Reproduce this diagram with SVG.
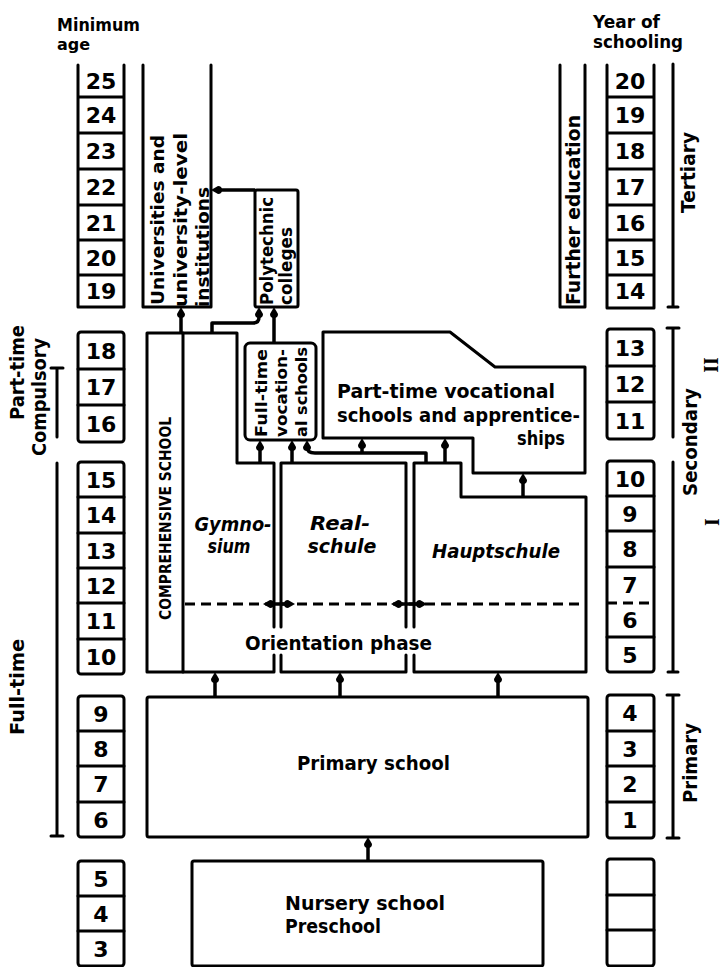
<svg xmlns="http://www.w3.org/2000/svg" width="724" height="967" viewBox="0 0 724 967">
<defs>
<marker id="ah" markerUnits="userSpaceOnUse" markerWidth="14" markerHeight="12" viewBox="-6 -6 14 12" refX="0" refY="0" orient="auto" overflow="visible">
<path d="M6,0 L-1,-4 A4,4 0 0 0 -1,4 Z" fill="#000"/>
</marker>
<style>
.ln{fill:none;stroke:#000;stroke-width:3;stroke-linejoin:round;stroke-linecap:round}
.bx{fill:#fff;stroke:#000;stroke-width:3;stroke-linejoin:round}
.t{font-family:"DejaVu Sans","Liberation Sans",sans-serif;font-weight:bold;fill:#000}
.d{font-family:"DejaVu Sans","Liberation Sans",sans-serif;font-weight:bold;font-size:22px;text-anchor:middle;fill:#000}
.it{font-style:italic}
.cn{fill:none;stroke:#000;stroke-width:3.5;stroke-linejoin:round;marker-end:url(#ah)}
.dash{stroke-dasharray:10 6;stroke-linecap:butt}
.rn{font-family:"Liberation Serif",serif;font-weight:bold;font-size:20px;text-anchor:middle;fill:#000}
</style>
</defs>
<rect width="724" height="967" fill="#fff"/>

<g id="headers">
<text class="t" x="57" y="31" font-size="17" textLength="83" lengthAdjust="spacingAndGlyphs">Minimum</text>
<text class="t" x="57" y="50" font-size="16">age</text>
<text class="t" x="593" y="28" font-size="17" textLength="67" lengthAdjust="spacingAndGlyphs">Year of</text>
<text class="t" x="593" y="48" font-size="17" textLength="90" lengthAdjust="spacingAndGlyphs">schooling</text>
</g>

<g id="age-scale">
<path class="ln" d="M78,65 V307 H124 V65 M78,97 H124 M78,133 H124 M78,169 H124 M78,205 H124 M78,240 H124 M78,275 H124"/>
<text class="d" x="101" y="89">25</text><text class="d" x="101" y="123">24</text><text class="d" x="101" y="159">23</text><text class="d" x="101" y="195">22</text><text class="d" x="101" y="230.5">21</text><text class="d" x="101" y="265.5">20</text><text class="d" x="101" y="299">19</text>
<rect class="ln" x="78" y="332" width="46" height="110" rx="3"/>
<path class="ln" d="M78,369 H124 M78,405 H124"/>
<text class="d" x="101" y="358.5">18</text><text class="d" x="101" y="395">17</text><text class="d" x="101" y="431.5">16</text>
<rect class="ln" x="78" y="462" width="46" height="212" rx="3"/>
<path class="ln" d="M78,497 H124 M78,533 H124 M78,568 H124 M78,603 H124 M78,639 H124"/>
<text class="d" x="101" y="487.5">15</text><text class="d" x="101" y="523">14</text><text class="d" x="101" y="558.5">13</text><text class="d" x="101" y="593.5">12</text><text class="d" x="101" y="629">11</text><text class="d" x="101" y="664.5">10</text>
<rect class="ln" x="78" y="696" width="46" height="141" rx="3"/>
<path class="ln" d="M78,731 H124 M78,766 H124 M78,802 H124"/>
<text class="d" x="101" y="721.5">9</text><text class="d" x="101" y="756.5">8</text><text class="d" x="101" y="792">7</text><text class="d" x="101" y="827.5">6</text>
<rect class="ln" x="78" y="861" width="46" height="105" rx="3"/>
<path class="ln" d="M78,896 H124 M78,931 H124"/>
<text class="d" x="101" y="886.5">5</text><text class="d" x="101" y="921.5">4</text><text class="d" x="101" y="956.5">3</text>
</g>

<g id="year-scale">
<path class="ln" d="M607,65 V308 H654 V65 M607,97 H654 M607,133 H654 M607,169 H654 M607,205 H654 M607,240 H654 M607,275 H654"/>
<text class="d" x="630" y="89">20</text><text class="d" x="630" y="123">19</text><text class="d" x="630" y="159">18</text><text class="d" x="630" y="195">17</text><text class="d" x="630" y="230.5">16</text><text class="d" x="630" y="265.5">15</text><text class="d" x="630" y="299">14</text>
<rect class="ln" x="607" y="329" width="47" height="110" rx="3"/>
<path class="ln" d="M607,366 H654 M607,402 H654"/>
<text class="d" x="630" y="355.5">13</text><text class="d" x="630" y="392">12</text><text class="d" x="630" y="428.5">11</text>
<rect class="ln" x="607" y="461" width="47" height="211" rx="3"/>
<path class="ln" d="M607,496 H654 M607,531 H654 M607,567 H654 M607,637 H654"/>
<path class="ln dash" d="M607,603 H654"/>
<text class="d" x="630" y="486.5">10</text><text class="d" x="630" y="521.5">9</text><text class="d" x="630" y="557">8</text><text class="d" x="630" y="592.5">7</text><text class="d" x="630" y="627.5">6</text><text class="d" x="630" y="662.5">5</text>
<rect class="ln" x="607" y="695" width="47" height="143" rx="3"/>
<path class="ln" d="M607,731 H654 M607,766 H654 M607,802 H654"/>
<text class="d" x="630" y="721">4</text><text class="d" x="630" y="756.5">3</text><text class="d" x="630" y="792">2</text><text class="d" x="630" y="828">1</text>
<rect class="ln" x="607" y="859" width="47" height="107" rx="3"/>
<path class="ln" d="M607,895 H654 M607,930 H654"/>
</g>

<g id="brackets">
<path class="ln" d="M57,368 V437 M51,368 H63"/>
<path class="ln" d="M57,463 V836 M51,836 H63"/>
<path class="ln" d="M673,64 V307 M668,307 H678"/>
<path class="ln" d="M673,328 V437 M667,328 H679"/>
<path class="ln" d="M673,462 V672 M668,672 H678"/>
<path class="ln" d="M673,695 V838 M667,695 H679 M667,838 H679"/>
<text class="t" font-size="19" transform="translate(24,420) rotate(-90)" textLength="95" lengthAdjust="spacingAndGlyphs">Part-time</text>
<text class="t" font-size="19" transform="translate(46,456) rotate(-90)" textLength="118" lengthAdjust="spacingAndGlyphs">Compulsory</text>
<text class="t" font-size="19" transform="translate(24,735) rotate(-90)" textLength="96" lengthAdjust="spacingAndGlyphs">Full-time</text>
<text class="t" font-size="19" transform="translate(695,213) rotate(-90)" textLength="81" lengthAdjust="spacingAndGlyphs">Tertiary</text>
<text class="t" font-size="19" transform="translate(697,496) rotate(-90)" textLength="108" lengthAdjust="spacingAndGlyphs">Secondary</text>
<text class="t" font-size="19" transform="translate(697,803) rotate(-90)" textLength="80" lengthAdjust="spacingAndGlyphs">Primary</text>
<text class="rn" transform="translate(718,365) rotate(-90)">II</text>
<text class="rn" transform="translate(719,522) rotate(-90)">I</text>
</g>

<g id="universities">
<path class="ln" d="M143,65 V307 H211 V65"/>
<text class="t" font-size="17" transform="translate(164,305) rotate(-90)" textLength="170" lengthAdjust="spacingAndGlyphs">Universities and</text>
<text class="t" font-size="17" transform="translate(187,307) rotate(-90)" textLength="174" lengthAdjust="spacingAndGlyphs">university-level</text>
<text class="t" font-size="17" transform="translate(209,307) rotate(-90)" textLength="120" lengthAdjust="spacingAndGlyphs">institutions</text>
</g>

<g id="polytechnic">
<rect class="bx" x="255" y="190" width="43" height="117" rx="2"/>
<text class="t" font-size="17" transform="translate(273,305) rotate(-90)" textLength="108" lengthAdjust="spacingAndGlyphs">Polytechnic</text>
<text class="t" font-size="17" transform="translate(292,305) rotate(-90)" textLength="78" lengthAdjust="spacingAndGlyphs">colleges</text>
</g>

<g id="further-education">
<path class="ln" d="M560,65 V307 H585 V65"/>
<text class="t" font-size="19" transform="translate(580,305) rotate(-90)" textLength="190" lengthAdjust="spacingAndGlyphs">Further education</text>
</g>

<g id="comprehensive-school">
<path class="ln" d="M183,333 H147 V672 H183 V333"/>
<text class="t" font-size="16" transform="translate(171,620) rotate(-90)" textLength="203" lengthAdjust="spacingAndGlyphs">COMPREHENSIVE SCHOOL</text>
</g>

<g id="gymnasium">
<path class="ln" d="M183,333 H237 V463 H274 V627 M274,655 V672 H183"/>
<text class="t it" font-size="20" x="233" y="531" text-anchor="middle" textLength="77" lengthAdjust="spacingAndGlyphs">Gymno-</text>
<text class="t it" font-size="20" x="229" y="553" text-anchor="middle" textLength="43" lengthAdjust="spacingAndGlyphs">sium</text>
</g>

<g id="realschule">
<path class="ln" d="M281,627 V463 H406 V627 M406,655 V672 H281 V655"/>
<text class="t it" font-size="20" x="340" y="530" text-anchor="middle" textLength="60" lengthAdjust="spacingAndGlyphs">Real-</text>
<text class="t it" font-size="20" x="342" y="553" text-anchor="middle" textLength="69" lengthAdjust="spacingAndGlyphs">schule</text>
</g>

<g id="hauptschule">
<path class="ln" d="M414,627 V463 H461 V497 H586 V672 H414 V655"/>
<text class="t it" font-size="20" x="496" y="558" text-anchor="middle" textLength="128" lengthAdjust="spacingAndGlyphs">Hauptschule</text>
</g>

<g id="orientation-phase">
<path class="ln dash" d="M185,604 H586"/>
<text class="t" font-size="20" x="245" y="650" textLength="187" lengthAdjust="spacingAndGlyphs">Orientation phase</text>
</g>

<g id="ft-vocational">
<rect class="bx" x="245" y="343" width="71" height="97" rx="5"/>
<text class="t" font-size="15.5" transform="translate(267,437) rotate(-90)" textLength="88" lengthAdjust="spacingAndGlyphs">Full-time</text>
<text class="t" font-size="15.5" transform="translate(287,437) rotate(-90)" textLength="88" lengthAdjust="spacingAndGlyphs">vocation-</text>
<text class="t" font-size="15.5" transform="translate(307,437) rotate(-90)" textLength="90" lengthAdjust="spacingAndGlyphs">al schools</text>
</g>

<g id="part-time-vocational">
<polygon class="bx" points="323,332 450,332 495,367 585,367 585,473 473,473 473,438 323,438"/>
<text class="t" font-size="19.5" x="337" y="398" textLength="218" lengthAdjust="spacingAndGlyphs">Part-time vocational</text>
<text class="t" font-size="19.5" x="337" y="422" textLength="243" lengthAdjust="spacingAndGlyphs">schools and apprentice-</text>
<text class="t" font-size="19.5" x="565" y="445" text-anchor="end" textLength="48" lengthAdjust="spacingAndGlyphs">ships</text>
</g>

<g id="primary-school">
<rect class="bx" x="147" y="697" width="441" height="140" rx="2"/>
<text class="t" font-size="20" x="297" y="770" textLength="153" lengthAdjust="spacingAndGlyphs">Primary school</text>
</g>

<g id="nursery-school">
<rect class="bx" x="192" y="861" width="351" height="105" rx="2"/>
<text class="t" font-size="19" x="285" y="910" textLength="160" lengthAdjust="spacingAndGlyphs">Nursery school</text>
<text class="t" font-size="19" x="285" y="933" textLength="96" lengthAdjust="spacingAndGlyphs">Preschool</text>
</g>

<g id="connectors">
<path class="cn" d="M181,333 V313"/>
<path class="cn" d="M212,333 V323 H253 Q259,323 259,317 V313"/>
<path class="cn" d="M274,343 V313"/>
<path class="cn" d="M255,190 H217"/>
<path class="cn" d="M260,463 V446"/>
<path class="cn" d="M292,463 V446"/>
<path class="cn" d="M426,463 V453 H315 Q307,453 307,447 V446"/>
<path class="cn" d="M362,453 V444"/>
<path class="cn" d="M445,463 V444"/>
<path class="cn" d="M523,497 V479"/>
<path class="cn" d="M215,697 V678"/>
<path class="cn" d="M340,697 V678"/>
<path class="cn" d="M498,697 V678"/>
<path class="cn" d="M368,861 V843"/>
<path class="cn" d="M278,604 H269"/>
<path class="cn" d="M278,604 H289"/>
<path class="cn" d="M410,604 H397"/>
<path class="cn" d="M410,604 H421"/>
</g>
</svg>
